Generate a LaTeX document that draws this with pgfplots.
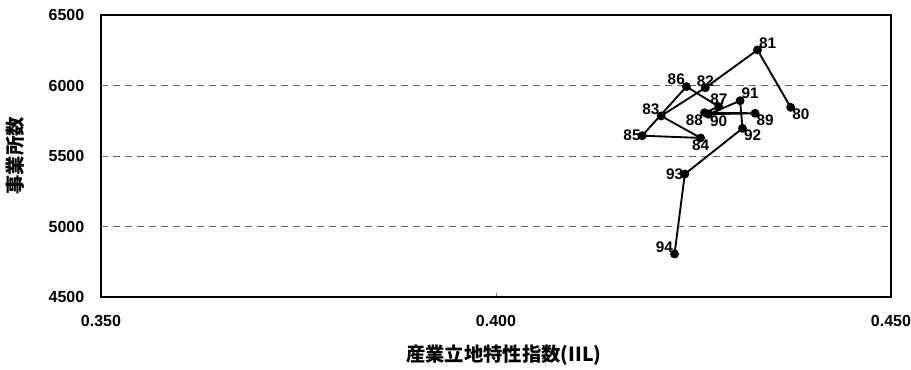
\documentclass[border=0pt]{standalone}
\usepackage{fontspec}
\setmainfont{Liberation Sans}
\newfontfamily\cjk{Noto Sans CJK JP}
\usepackage{pgfplots}
\pgfplotsset{compat=1.18}

\pgfplotsset{
  yearlabels/.style={only marks, mark=none, point meta=explicit symbolic,
    nodes near coords,
    nodes near coords style={anchor=#1, inner sep=1pt,
      font=\bfseries\fontsize{11.5}{13}\selectfont}},
}

\begin{document}
\begin{tikzpicture}[x=0.75pt,y=0.75pt]
\path[use as bounding box] (-101,-73) rectangle (810,297);
\begin{axis}[
  scale only axis,
  width=592.5pt, height=211.5pt,
  xmin=0.35, xmax=0.45, ymin=4500, ymax=6500,
  xtick={0.35,0.40,0.45},
  ytick={4500,5000,5500,6000,6500},
  axis line style={line width=1.5pt},
  tick pos=left, tick align=inside,
  major tick length=3pt,
  ymajorgrids,
  grid style={dash pattern=on 5pt off 4pt, gray!80!black, line width=0.6pt},
  /pgf/number format/assume math mode=true,
  xticklabel style={/pgf/number format/fixed, /pgf/number format/fixed zerofill,
    /pgf/number format/precision=3, yshift=-10pt},
  yticklabel style={/pgf/number format/1000 sep={}, xshift=-9pt},
  tick label style={font=\bfseries\fontsize{12}{14}\selectfont},
  xlabel={\cjk\bfseries 産業立地特性指数(IIL)},
  ylabel={\cjk\bfseries 事業所数},
  label style={font=\fontsize{14.5}{16}\selectfont},
  xlabel style={at={(axis description cs:0.51,-0.206)}, anchor=center},
  ylabel style={at={(axis description cs:-0.109,0.5)}, anchor=center},
]
% path 1980 -> 1994
\addplot[black, line width=1.4pt, mark=*, mark size=2.6pt] coordinates {
  (0.4373,5845) (0.4331,6252) (0.4265,5984) (0.4209,5784) (0.4259,5628)
  (0.4185,5644) (0.4241,5992) (0.4282,5850) (0.4264,5807) (0.4328,5803)
  (0.4269,5796) (0.4309,5892) (0.4312,5696) (0.4239,5372) (0.4226,4805)
};
% year labels
\addplot[yearlabels={north west}] coordinates {
  (0.4373,5845)[80] (0.4328,5803)[89] (0.4269,5796)[90] (0.4312,5696)[92]};
\addplot[yearlabels={south west}] coordinates {
  (0.4331,6252)[81] (0.4309,5892)[91]};
\addplot[yearlabels=south] coordinates {
  (0.4265,5984)[82] (0.4282,5850)[87]};
\addplot[yearlabels={south east}] coordinates {
  (0.4209,5784)[83] (0.4241,5992)[86] (0.4226,4805)[94]};
\addplot[yearlabels=north] coordinates {(0.4259,5628)[84]};
\addplot[yearlabels=east] coordinates {
  (0.4185,5644)[85] (0.4239,5372)[93]};
\addplot[yearlabels={north east}] coordinates {(0.4264,5807)[88]};
\end{axis}
\end{tikzpicture}
\end{document}
